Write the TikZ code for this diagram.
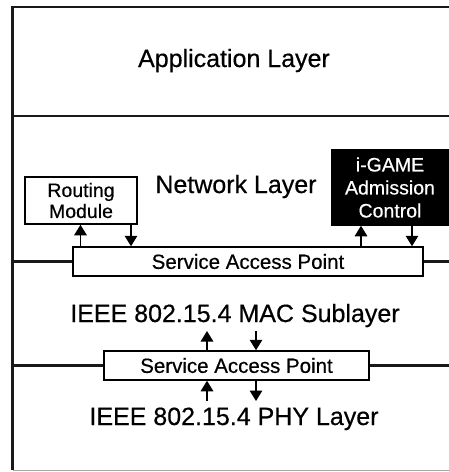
\documentclass[tikz,border=0pt]{standalone}
\usepackage{fontspec}
\setmainfont[FakeBold=0.5]{Liberation Sans}
\usetikzlibrary{arrows.meta}

\tikzset{
  layerline/.style={line width=2.6pt, black!90},
  layertext/.style={font=\fontsize{25}{30}\selectfont, anchor=base, inner sep=0pt},
  sapbox/.style={draw, line width=1.5pt, fill=white, inner sep=0pt,
                 font=\fontsize{20.5}{24}\selectfont},
  modbox/.style={draw, line width=1.5pt, inner sep=0pt, align=center,
                 font=\fontsize{19.5}{21}\selectfont},
  darkbox/.style={modbox, fill=black, text=white,
                  font=\fontsize{19.5}{23}\selectfont},
  sig/.style={line width=1.5pt, -{Triangle[length=10.5pt,width=12.5pt]}}
}

\begin{document}
\begin{tikzpicture}[x=1pt, y=-1pt]
  \useasboundingbox (0,0) rectangle (449,472);

  % service access points
  \node[sapbox, minimum width=350pt, minimum height=29pt] (sap1) at (248,261.5) {Service Access Point};
  \node[sapbox, minimum width=265pt, minimum height=29pt] (sap2) at (236.5,365.5) {Service Access Point};

  % modules of the network layer
  \node[modbox, minimum width=112pt, minimum height=47pt] (routing) at (81,200.5) {Routing\\Module};
  \node[darkbox, minimum width=116pt, minimum height=75pt] (igame) at (390,187.5) {i-GAME\\Admission\\Control};

  % frame and layer boundaries
  \coordinate (tl) at (12.5,7);
  \coordinate (tr) at (449,7);
  \coordinate (bl) at (12.5,470);
  \coordinate (br) at (449,470);
  \coordinate (l1) at (12.5,116);
  \coordinate (r1) at (449,116);
  \coordinate (l2) at (12.5,261.5);
  \coordinate (r2) at (449,261.5);
  \coordinate (l3) at (12.5,365.5);
  \coordinate (r3) at (449,365.5);
  \draw[layerline] (tr) -- (tl) -- (bl);
  \draw[line width=1pt, black!35] (bl) -- (br);
  \draw[layerline] (l1) -- (r1);
  \draw[layerline] (l2) -- (sap1.west);
  \draw[layerline] (sap1.east) -- (r2);
  \draw[layerline] (l3) -- (sap2.west);
  \draw[layerline] (sap2.east) -- (r3);

  % layer names
  \node[layertext] (app) at (234,67) {Application Layer};
  \node[layertext] (net) at (236,193) {Network Layer};
  \node[layertext] (mac) at (235,322) {IEEE 802.15.4 MAC Sublayer};
  \node[layertext] (phy) at (234,425) {IEEE 802.15.4 PHY Layer};

  % primitives between the network layer and its service access point
  \coordinate (xa) at (80.5,0);
  \coordinate (xb) at (131,0);
  \coordinate (xc) at (361,0);
  \coordinate (xd) at (412,0);
  \draw[sig] (sap1.north -| xa) -- (routing.south -| xa);
  \draw[sig] (routing.south -| xb) -- (sap1.north -| xb);
  \draw[sig] (sap1.north -| xc) -- (igame.south -| xc);
  \draw[sig] (igame.south -| xd) -- (sap1.north -| xd);

  % primitives through the lower service access point
  \coordinate (ua) at (207,331);
  \coordinate (ub) at (256,331);
  \coordinate (da) at (207,401);
  \coordinate (db) at (256,401);
  \draw[sig] (sap2.north -| ua) -- (ua);
  \draw[sig] (ub) -- (sap2.north -| ub);
  \draw[sig] (da) -- (sap2.south -| da);
  \draw[sig] (sap2.south -| db) -- (db);
\end{tikzpicture}
\end{document}
